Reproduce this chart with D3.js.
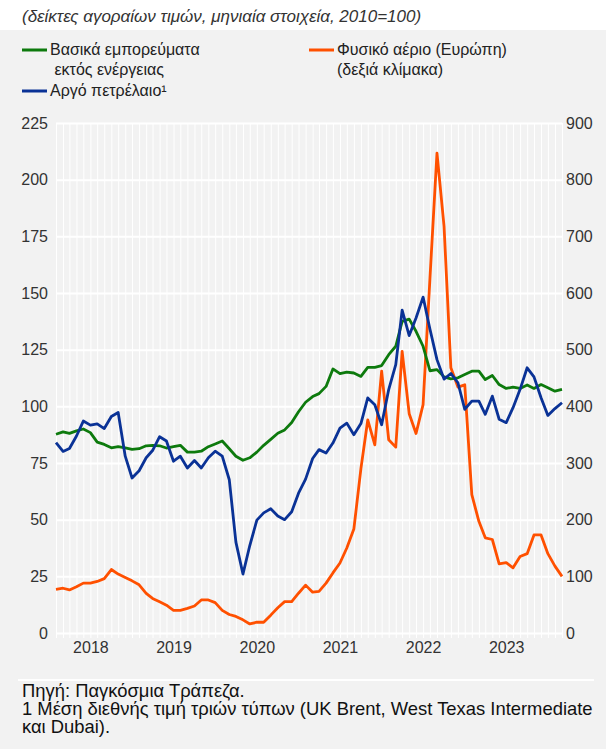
<!DOCTYPE html>
<html>
<head>
<meta charset="utf-8">
<script src="https://cdn.jsdelivr.net/npm/d3@7"></script>
<style>
  body { margin: 0; padding: 0; background: #fff; }
  svg { display: block; font-family: "Liberation Sans", Arial, sans-serif; }
</style>
</head>
<body>
<svg width="606" height="749"></svg>
<script>
// monthly data, Jan 2018 - Feb 2024
var startMonth = new Date(2018, 0, 1);
var endMonth = new Date(2024, 1, 1);
var years = ["2018", "2019", "2020", "2021", "2022", "2023"];
var leftTicks = [0, 25, 50, 75, 100, 125, 150, 175, 200, 225];
var rightTicks = [0, 100, 200, 300, 400, 500, 600, 700, 800, 900];

// non-energy commodities (left scale)
var nonEnergy = [87.7, 88.7, 88.1, 89.2, 90, 88.4, 84.2, 83.2, 81.7, 82.2, 81.7, 81,
  81.3, 82.6, 82.8, 82.6, 81.6, 82.2, 82.8, 79.8, 79.8, 80.2, 82.2, 83.4,
  84.7, 81.3, 78, 76.2, 77.3, 79.8, 82.8, 85.4, 88.1, 89.6, 92.9, 97.6,
  101.8, 104.3, 105.6, 108.8, 116.5, 114.4, 115.1, 114.7, 113.2, 117.2, 117.2, 118,
  122.8, 126.5, 137.5, 138.5, 133.1, 126.5, 115.7, 116.2, 113, 112.1, 112.6, 114,
  115.5, 115.5, 111.8, 113.6, 109.6, 107.9, 108.5, 107.9, 109.4, 107.9, 109.6, 108.2,
  106.7, 107.5];

// crude oil (left scale)
var crudeOil = [84, 80.1, 81.4, 86.9, 93.5, 91.7, 92.3, 90.2, 95.5, 97.3, 78, 68.4,
  71.6, 77.3, 80.5, 86.6, 84.7, 75.8, 78, 72.8, 76.1, 72.8, 77.3, 80.2,
  78, 67.6, 40.1, 26, 38.6, 49.8, 53, 54.8, 51.6, 50, 53.5, 61.7,
  67.9, 77, 80.9, 79.4, 83.8, 90.4, 92.6, 87.5, 92.4, 103.7, 100.7, 91.9,
  107.4, 118.4, 142.4, 131.2, 139, 148.2, 134.1, 120.6, 112, 114.5, 110.4, 98.7,
  102.3, 102.3, 96.5, 104.5, 94.3, 92.8, 99.4, 107.5, 117, 113, 103.8, 96,
  99, 101.6];

// natural gas Europe (right scale)
var naturalGas = [77, 79, 76, 81.5, 88, 88, 91, 96, 112, 104, 98, 92,
  85, 70, 61, 55, 49, 40, 40, 43.4, 47.6, 58.3, 58.3, 53.6,
  40, 32.7, 29.2, 23.2, 16, 19, 19, 31.5, 44.6, 55.3, 55.3, 70.2,
  84.5, 72, 73.5, 88, 106, 123.5, 150, 183.5, 290, 376, 332, 462,
  341, 328, 497, 387, 352, 403, 625, 847, 718, 468, 434, 438,
  244, 197, 168, 165, 122, 124, 115, 135, 140, 173, 173, 140,
  118, 100];

var months = d3.timeMonth.range(startMonth, d3.timeMonth.offset(endMonth, 1));

var svg = d3.select("svg");
var plotLeft = 56, plotRight = 562, plotTop = 123, plotBottom = 633;

// backgrounds
svg.append("rect").attr("width", 606).attr("height", 749).attr("fill", "#ffffff");
svg.append("rect").attr("y", 30).attr("width", 606).attr("height", 719).attr("fill", "#f2f2f2");

var x = d3.scaleTime().domain([startMonth, endMonth]).range([plotLeft, plotRight]);
var yL = d3.scaleLinear().domain([0, 225]).range([plotBottom, plotTop]);
var yR = d3.scaleLinear().domain([0, 900]).range([plotBottom, plotTop]);

// monthly vertical grid
svg.append("g")
    .attr("transform", "translate(0," + (plotBottom + 5) + ")")
    .call(d3.axisBottom(x).tickValues(months).tickSize(-(plotBottom + 5 - plotTop)).tickFormat(""))
    .call(function(g) { g.select(".domain").remove(); })
    .selectAll("line").attr("stroke", "#ffffff").attr("stroke-width", 1);

// horizontal grid
svg.append("g")
    .attr("transform", "translate(" + plotLeft + ",0)")
    .call(d3.axisLeft(yL).tickValues(leftTicks).tickSize(-(plotRight - plotLeft)).tickFormat(""))
    .call(function(g) { g.select(".domain").remove(); })
    .selectAll("line").attr("stroke", "#ffffff").attr("stroke-width", 2);

// left axis labels
svg.append("g")
    .attr("transform", "translate(48,0)")
    .call(d3.axisLeft(yL).tickValues(leftTicks).tickSize(0).tickPadding(0))
    .call(function(g) { g.select(".domain").remove(); })
    .selectAll("text").attr("fill", "#333").style("font-size", "16px")
    .style("font-family", "Liberation Sans, Arial, sans-serif");

// right axis labels
svg.append("g")
    .attr("transform", "translate(566,0)")
    .call(d3.axisRight(yR).tickValues(rightTicks).tickSize(0).tickPadding(0))
    .call(function(g) { g.select(".domain").remove(); })
    .selectAll("text").attr("fill", "#333").style("font-size", "16px")
    .style("font-family", "Liberation Sans, Arial, sans-serif");

// year labels
svg.append("g")
    .attr("transform", "translate(0,642)")
    .call(d3.axisBottom(x)
        .tickValues(years.map(function(yr) { return new Date(+yr, 5, 1); }))
        .tickSize(0).tickPadding(0)
        .tickFormat(function(d, i) { return years[i]; }))
    .call(function(g) { g.select(".domain").remove(); })
    .selectAll("text").attr("fill", "#333").style("font-size", "16px")
    .style("font-family", "Liberation Sans, Arial, sans-serif");

// lines
function drawLine(values, yScale, color) {
  var line = d3.line()
      .x(function(d, i) { return x(months[i]); })
      .y(function(d) { return yScale(d); });
  svg.append("path")
      .datum(values)
      .attr("fill", "none")
      .attr("stroke", color)
      .attr("stroke-width", 2.8)
      .attr("stroke-linejoin", "round")
      .attr("d", line);
}
drawLine(naturalGas, yR, "#ff5000");
drawLine(nonEnergy, yL, "#0d7a0d");
drawLine(crudeOil, yL, "#0a3296");

// title
svg.append("text")
    .attr("x", 22).attr("y", 22)
    .style("font-size", "17px").style("font-style", "italic")
    .attr("fill", "#333")
    .text("(δείκτες αγοραίων τιμών, μηνιαία στοιχεία, 2010=100)");

// legend
var legend = [
  {x: 22, y: 50, color: "#0d7a0d", lines: ["Βασικά εμπορεύματα", " εκτός ενέργειας"]},
  {x: 309, y: 50, color: "#ff5000", lines: ["Φυσικό αέριο (Ευρώπη)", "(δεξιά κλίμακα)"]},
  {x: 22, y: 91, color: "#0a3296", lines: ["Αργό πετρέλαιο¹"]}
];
legend.forEach(function(l) {
  svg.append("line")
      .attr("x1", l.x).attr("x2", l.x + 25)
      .attr("y1", l.y).attr("y2", l.y)
      .attr("stroke", l.color).attr("stroke-width", 3);
  var t = svg.append("text")
      .attr("x", l.x + 28).attr("y", l.y + 5)
      .style("font-size", "16px").attr("fill", "#222")
      .attr("xml:space", "preserve");
  l.lines.forEach(function(s, i) {
    t.append("tspan").attr("x", l.x + 28).attr("dy", i === 0 ? 0 : 20).text(s);
  });
});

// footer
svg.append("line")
    .attr("x1", 18).attr("x2", 594).attr("y1", 680).attr("y2", 680)
    .attr("stroke", "#ffffff").attr("stroke-width", 2);

var notes = ["Πηγή: Παγκόσμια Τράπεζα.",
  "1 Μέση διεθνής τιμή τριών τύπων (UK Brent, West Texas Intermediate",
  "και Dubai)."];
notes.forEach(function(s, i) {
  svg.append("text")
      .attr("x", 22).attr("y", 697 + i * 18)
      .style("font-size", "18.4px").attr("fill", "#111")
      .text(s);
});
</script>
</body>
</html>
